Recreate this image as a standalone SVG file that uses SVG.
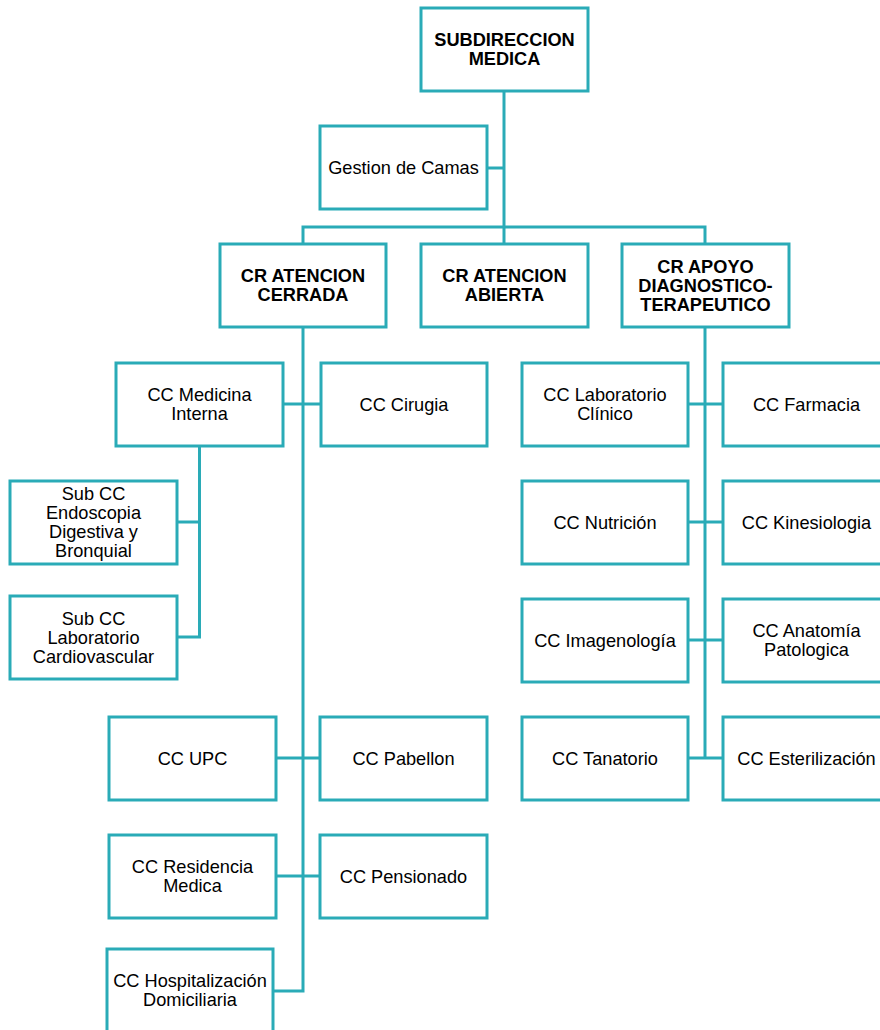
<svg xmlns="http://www.w3.org/2000/svg" width="880" height="1030" viewBox="0 0 880 1030">
<style>
.box{fill:#fff;stroke:#2AABB7;stroke-width:3}
.ln{fill:none;stroke:#2AABB7;stroke-width:3}
text{font-family:"Liberation Sans",Arial,sans-serif;font-size:18.2px;fill:#000;text-anchor:middle}
.b{font-weight:bold}
</style>
<rect width="880" height="1030" fill="#fff"/>
<g id="connectors" class="ln">
<path d="M504,91V244"/>
<path d="M487,168H504"/>
<path d="M303,244V227H705V244"/>
<path d="M303,327V991H273"/>
<path d="M283,404H321"/>
<path d="M199.5,446V637H177M177,522H199.5"/>
<path d="M276,758H320"/>
<path d="M276,876H320"/>
<path d="M705,327V758"/>
<path d="M688,404H723"/>
<path d="M688,522H723"/>
<path d="M688,640H723"/>
<path d="M688,758H723"/>
</g>
<g id="n-subdireccion"><rect class="box" x="421" y="8" width="167" height="83"/><text class="b" x="504.5" y="46">SUBDIRECCION</text><text class="b" x="504.5" y="65">MEDICA</text></g>
<g id="n-gestion"><rect class="box" x="320" y="126" width="167" height="83"/><text x="403.5" y="174">Gestion de Camas</text></g>
<g id="n-cerrada"><rect class="box" x="220" y="244" width="166" height="83"/><text class="b" x="303" y="282">CR ATENCION</text><text class="b" x="303" y="301.3">CERRADA</text></g>
<g id="n-abierta"><rect class="box" x="421" y="244" width="167" height="83"/><text class="b" x="504.5" y="282">CR ATENCION</text><text class="b" x="504.5" y="301.3">ABIERTA</text></g>
<g id="n-apoyo"><rect class="box" x="622" y="244" width="167" height="83"/><text class="b" x="705.5" y="272.5">CR APOYO</text><text class="b" x="705.5" y="291.8">DIAGNOSTICO-</text><text class="b" x="705.5" y="311.1">TERAPEUTICO</text></g>
<g id="n-medicina"><rect class="box" x="116" y="363" width="167" height="83"/><text x="199.5" y="401">CC Medicina</text><text x="199.5" y="420.3">Interna</text></g>
<g id="n-cirugia"><rect class="box" x="321" y="363" width="166" height="83"/><text x="404" y="411">CC Cirugia</text></g>
<g id="n-endoscopia"><rect class="box" x="10" y="481" width="167" height="83"/><text x="93.5" y="499.5">Sub CC</text><text x="93.5" y="518.8">Endoscopia</text><text x="93.5" y="538.1">Digestiva y</text><text x="93.5" y="557.4">Bronquial</text></g>
<g id="n-cardio"><rect class="box" x="10" y="596" width="167" height="83"/><text x="93.5" y="624.5">Sub CC</text><text x="93.5" y="643.8">Laboratorio</text><text x="93.5" y="663.1">Cardiovascular</text></g>
<g id="n-upc"><rect class="box" x="109" y="717" width="167" height="83"/><text x="192.5" y="765">CC UPC</text></g>
<g id="n-pabellon"><rect class="box" x="320" y="717" width="167" height="83"/><text x="403.5" y="765">CC Pabellon</text></g>
<g id="n-residencia"><rect class="box" x="109" y="835" width="167" height="83"/><text x="192.5" y="873">CC Residencia</text><text x="192.5" y="892.3">Medica</text></g>
<g id="n-pensionado"><rect class="box" x="320" y="835" width="167" height="83"/><text x="403.5" y="883">CC Pensionado</text></g>
<g id="n-hospitalizacion"><rect class="box" x="107" y="949" width="166" height="83"/><text x="190" y="987">CC Hospitalización</text><text x="190" y="1006.3">Domiciliaria</text></g>
<g id="n-labclinico"><rect class="box" x="522" y="363" width="166" height="83"/><text x="605" y="401">CC Laboratorio</text><text x="605" y="420.3">Clínico</text></g>
<g id="n-farmacia"><rect class="box" x="723" y="363" width="167" height="83"/><text x="806.5" y="411">CC Farmacia</text></g>
<g id="n-nutricion"><rect class="box" x="522" y="481" width="166" height="83"/><text x="605" y="529">CC Nutrición</text></g>
<g id="n-kinesiologia"><rect class="box" x="723" y="481" width="167" height="83"/><text x="806.5" y="529">CC Kinesiologia</text></g>
<g id="n-imagenologia"><rect class="box" x="522" y="599" width="166" height="83"/><text x="605" y="647">CC Imagenología</text></g>
<g id="n-anatomia"><rect class="box" x="723" y="599" width="167" height="83"/><text x="806.5" y="637">CC Anatomía</text><text x="806.5" y="656.3">Patologica</text></g>
<g id="n-tanatorio"><rect class="box" x="522" y="717" width="166" height="83"/><text x="605" y="765">CC Tanatorio</text></g>
<g id="n-esterilizacion"><rect class="box" x="723" y="717" width="167" height="83"/><text x="806.5" y="765">CC Esterilización</text></g>
</svg>
